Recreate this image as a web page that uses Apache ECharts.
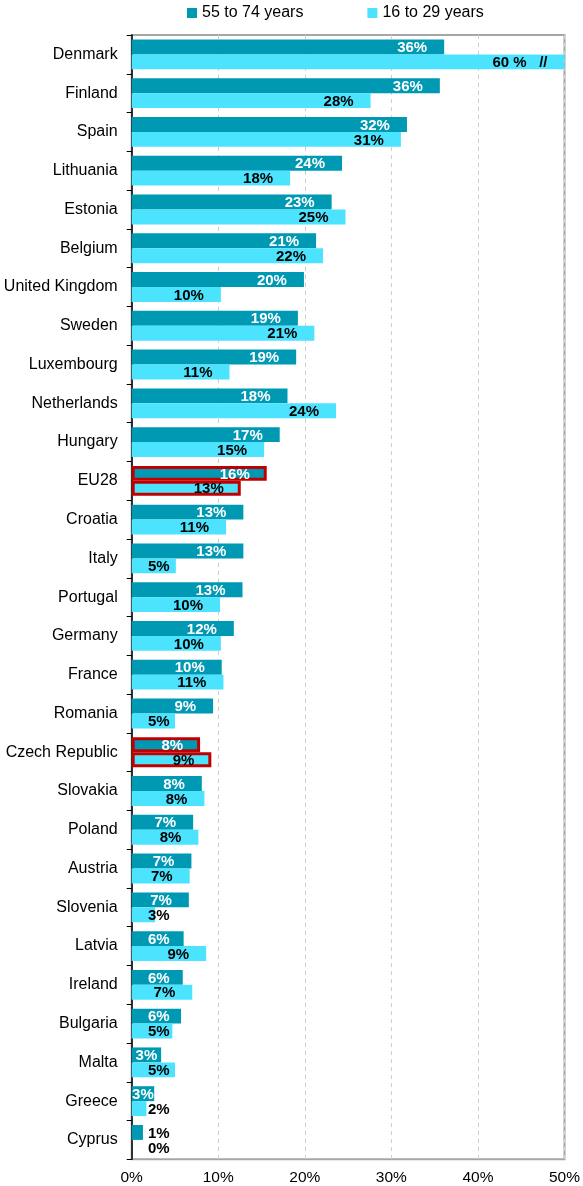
<!DOCTYPE html>
<html>
<head>
<meta charset="utf-8">
<script src="https://cdn.jsdelivr.net/npm/echarts@6/dist/echarts.min.js"></script>
<style>
html,body{margin:0;padding:0;background:#fff;}
#chart{width:583px;height:1186px;}
</style>
</head>
<body>
<div id="chart"></div>
<script>
const categories = ['Denmark','Finland','Spain','Lithuania','Estonia','Belgium','United Kingdom','Sweden','Luxembourg','Netherlands','Hungary','EU28','Croatia','Italy','Portugal','Germany','France','Romania','Czech Republic','Slovakia','Poland','Austria','Slovenia','Latvia','Ireland','Bulgaria','Malta','Greece','Cyprus'];
const older = [36.1,35.6,31.8,24.3,23.1,21.3,19.9,19.2,19.0,18.0,17.1,15.6,12.9,12.9,12.8,11.8,10.4,9.4,7.9,8.1,7.1,6.9,6.6,6.0,5.9,5.7,3.4,2.6,1.3];
const younger = [60,27.6,31.1,18.3,24.7,22.1,10.3,21.1,11.3,23.6,15.3,12.6,10.9,5.1,10.2,10.3,10.6,5.0,9.2,8.4,7.7,6.7,2.7,8.6,7.0,4.7,5.0,1.7,0];
const seriesNames = ['55 to 74 years','16 to 29 years'];
const xTicks = [0,10,20,30,40,50];
const highlighted = ['EU28','Czech Republic'];
const brokenBarLabel = '60 %   //';

const FONT = 'Liberation Sans, Arial, sans-serif';
const DARK = '#0099B3';
const LIGHT = '#4CE3FF';
const gridLeft = 131.7, gridRight = 18, gridTop = 35, gridBottom = 26.7;
const xMax = xTicks[xTicks.length-1];
const ppu = (583 - gridLeft - gridRight) / xMax;
const END_GAP = 17, MIN_LEFT = 16.3, LABEL_W = 22;

function labelText(v){ return Math.round(v) + '%'; }

function makeItem(v, i, dark){
  const name = categories[i];
  const px = Math.min(v, xMax) * ppu;
  const item = { value: v, label: {} };
  if (!dark && v > xMax) item.label.formatter = brokenBarLabel;
  else item.label.formatter = labelText(v);
  if (dark && (name === 'Malta' || name === 'Greece')) {
    item.label.position = 'inside';
    item.label.color = '#fff';
  } else if (px - END_GAP - LABEL_W < MIN_LEFT) {
    item.label.position = [MIN_LEFT, '50%'];
    item.label.align = 'left';
    item.label.verticalAlign = 'middle';
    item.label.color = (dark && px > MIN_LEFT + 4) ? '#fff' : '#000';
  }
  if (highlighted.indexOf(name) >= 0) {
    item.itemStyle = { borderColor: '#C00000', borderWidth: 3 };
  }
  return item;
}

const chart = echarts.init(document.getElementById('chart'), null, {renderer:'canvas'});
chart.setOption({
  animation: false,
  backgroundColor: '#fff',
  textStyle: { fontFamily: FONT },
  legend: {
    data: seriesNames,
    left: 182, top: 0,
    itemWidth: 10, itemHeight: 10, itemGap: 64,
    icon: 'rect',
    textStyle: { fontFamily: FONT, fontSize: 16, color: '#000' }
  },
  grid: {
    left: gridLeft, right: gridRight, top: gridTop, bottom: gridBottom,
    show: true, borderColor: '#a6a6a6', borderWidth: 2, backgroundColor: 'transparent'
  },
  xAxis: {
    type: 'value', min: 0, max: xMax, interval: 10,
    axisLine: { show: false }, axisTick: { show: false },
    axisLabel: { formatter: '{value}%', fontFamily: FONT, fontSize: 15.5, color: '#000', margin: 10 },
    splitLine: { show: true, lineStyle: { color: '#cfcfcf', type: [4,4], width: 1 } }
  },
  yAxis: {
    type: 'category', data: categories, inverse: true,
    axisLine: { show: true, lineStyle: { color: '#000', width: 1.5 } },
    axisTick: { show: true, length: 5, lineStyle: { color: '#000', width: 1 } },
    axisLabel: { fontFamily: FONT, fontSize: 16, color: '#000', margin: 14 }
  },
  series: [
    {
      name: seriesNames[0], type: 'bar', barGap: '0%', barCategoryGap: '23%',
      itemStyle: { color: DARK },
      label: { show: true, position: 'insideRight', distance: END_GAP, color: '#fff', fontWeight: 'bold', fontSize: 15, fontFamily: FONT, offset: [0,1] },
      data: older.map((v,i) => makeItem(v, i, true))
    },
    {
      name: seriesNames[1], type: 'bar', barGap: '0%', barCategoryGap: '23%',
      itemStyle: { color: LIGHT },
      label: { show: true, position: 'insideRight', distance: END_GAP, color: '#000', fontWeight: 'bold', fontSize: 15, fontFamily: FONT, offset: [0,1] },
      data: younger.map((v,i) => makeItem(v, i, false))
    }
  ]
});
</script>
</body>
</html>
